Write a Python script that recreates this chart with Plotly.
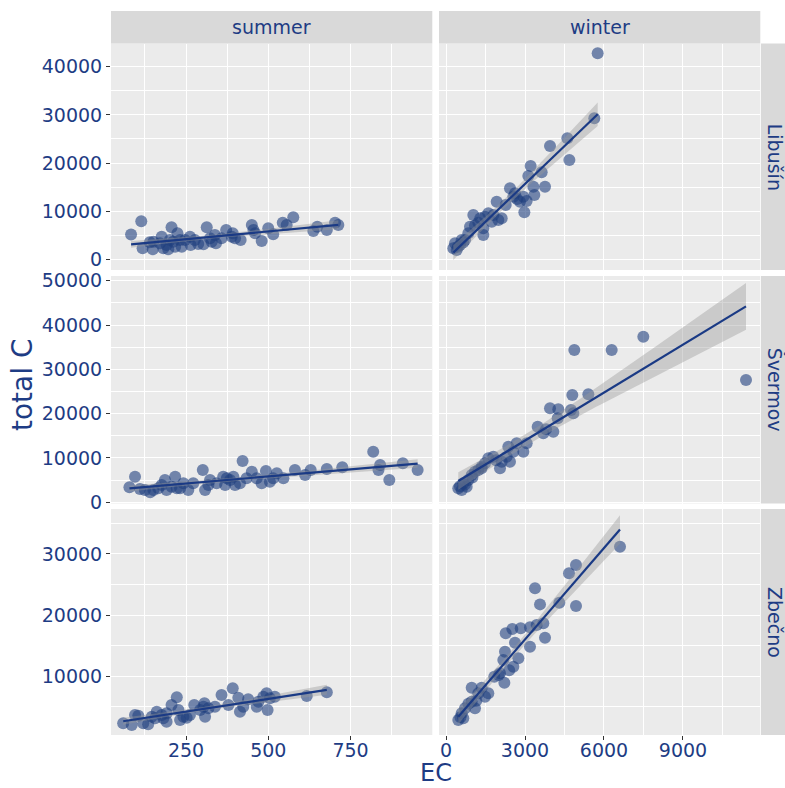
import numpy as np
import plotly.graph_objects as go

# ---------------- data ----------------
seasons = ["summer", "winter"]
sites = ["Libušín", "Švermov", "Zbečno"]

sum_lib_x = [83,114,140,118,149,176,181,206,201,224,232,217,191,262,264,287,313,303,323,338,341,358,372,392,399,416,450,455,460,480,500,515,544,556,576,637,649,678,703,713,171,196,211,237,151,247,277,328,389]
sum_lib_y = [5130,7890,3530,2280,2080,4690,2280,6650,4000,5400,4010,2620,2970,4690,2970,3180,6650,3110,4360,5050,3320,4360,6090,5400,4360,4010,7120,6090,5400,3800,6440,5190,7600,7120,8720,5880,6770,6090,7600,7120,3320,2080,3660,2620,3660,4010,4010,3660,4690]

win_lib_x = [5760,5632,3950,4608,4685,3215,3633,3127,3760,3317,2430,2620,2937,3355,2810,3063,2975,1925,2267,1607,1037,1481,1987,1227,1417,1417,847,722,342,278,532,595,1737,2115,2557,911,405,1300,1800,2700,450,650,1100]
win_lib_y = [42780,29280,23530,25130,20620,19380,18070,17300,15080,15080,14750,13710,13000,13350,11960,12110,9760,11960,11280,9550,9200,8850,8160,7600,6440,5050,5400,4010,3320,2280,2970,4010,7810,8510,13000,6770,1930,8500,9200,12500,2600,3500,7000]

sum_sve_x = [78,95,110,141,151,176,186,191,217,222,242,257,272,301,308,318,323,363,369,384,394,399,422,434,450,465,480,493,505,526,546,581,612,629,678,725,819,840,835,868,909,954,125,166,206,232,343,374,414,515]
sum_sve_y = [3380,5780,3000,2250,2780,3900,5030,2780,5780,3160,4290,2780,4290,7290,2780,3900,5030,5780,3900,5030,5780,3900,9320,5410,6900,5410,4290,7060,4650,6540,5410,7290,6160,7290,7510,7900,11420,8420,7290,5030,8800,7290,2780,3160,3520,3160,4290,5410,4290,5410]

win_sve_x = [11393,7494,6292,4873,4797,5405,3950,4265,4747,4835,4241,3481,3695,4075,3063,2684,2937,2367,2304,2430,2051,1797,1607,1481,1227,976,847,657,467,595,785,1355,2115,2557,1101,3800,1900,1350,1000,720,530]
win_sve_y = [27600,37370,34360,34360,24210,24370,21210,20980,20830,20080,18950,17060,15570,15930,13310,13310,11420,12550,10290,9160,7670,10290,9930,8800,7290,6160,5030,4290,3160,2780,3520,8030,9160,11420,6900,16500,9500,7700,5600,4000,3600]

sum_zbe_x = [59,85,95,105,120,135,146,161,176,191,206,222,227,232,252,262,275,293,306,308,318,338,358,379,392,409,414,424,439,465,470,485,495,498,505,520,617,678,156,181,191,242,303]
sum_zbe_y = [2320,2040,3680,3560,2320,2160,3400,4220,3680,2580,5310,6570,4490,2860,3240,3680,5310,4490,5590,3400,4770,5030,6940,5310,8040,6500,4220,5030,6240,5030,5850,6670,7220,4490,6400,6670,6780,7390,3140,3140,3950,3400,5030]

win_zbe_x = [6608,4937,4671,3380,3570,4304,4937,3696,3443,3190,2837,2519,2267,3760,2620,3190,2240,2177,2747,2557,2051,1835,2216,1607,1355,976,1227,976,1101,722,595,467,657,1481,2400,850,550,1150,2000]
win_zbe_y = [31180,28190,26830,24380,21760,22030,21490,18660,18380,18010,17840,17730,17030,16310,15490,14840,14020,12660,12940,11570,10490,9930,8950,7220,8140,8140,7220,5850,4770,4770,3950,2860,3140,6670,11000,5500,3300,6000,10200]

panel_data = {
    (0, 0): (sum_lib_x, sum_lib_y), (0, 1): (win_lib_x, win_lib_y),
    (1, 0): (sum_sve_x, sum_sve_y), (1, 1): (win_sve_x, win_sve_y),
    (2, 0): (sum_zbe_x, sum_zbe_y), (2, 1): (win_zbe_x, win_zbe_y),
}

x_major = {0: [250, 500, 750], 1: [0, 3000, 6000, 9000]}
x_minor = {0: [125, 375, 625, 875], 1: [1500, 4500, 7500, 10500]}
x_range = {0: [22.0, 998.6], 1: [-266, 11936]}

y_major = {0: [0, 10000, 20000, 30000, 40000],
           1: [0, 10000, 20000, 30000, 40000, 50000],
           2: [10000, 20000, 30000]}
y_minor = {0: [5000, 15000, 25000, 35000],
           1: [5000, 15000, 25000, 35000, 45000],
           2: [5000, 15000, 25000, 35000]}
y_range = {0: [-2222, 44818], 1: [-270, 51060], 2: [409, 37350]}

# ---------------- layout geometry (pixels) ----------------
W, H = 785, 788
col_px = {0: (111, 432.3), 1: (439, 760.3)}
row_px = {0: (43.5, 270), 1: (276, 503.5), 2: (509, 735)}

TXT = "#1E3C84"
PT = "#1F3F7F"
LINE = "#1A3A85"
FONT = "DejaVu Sans"

fig = go.Figure()
layout = dict(
    width=W, height=H, margin=dict(l=0, r=0, t=0, b=0, autoexpand=False),
    paper_bgcolor="white", plot_bgcolor="#EBEBEB", showlegend=False,
    font=dict(family=FONT, color=TXT, size=18),
)

for (r, c), (xs, ys) in panel_data.items():
    i = r * 2 + c + 1
    xa = "x" if i == 1 else f"x{i}"
    ya = "y" if i == 1 else f"y{i}"
    xs_a = np.array(xs, float)
    ys_a = np.array(ys, float)
    fig.add_trace(go.Scatter(x=xs_a, y=ys_a, mode="markers", xaxis=xa, yaxis=ya,
                             marker=dict(size=12, color=PT, opacity=0.6, line=dict(width=0)),
                             hoverinfo="skip"))
    # linear fit with 95% CI
    n = len(xs_a)
    b, a = np.polyfit(xs_a, ys_a, 1)
    resid = ys_a - (a + b * xs_a)
    s = np.sqrt(np.sum(resid ** 2) / (n - 2))
    xbar = xs_a.mean()
    sxx = np.sum((xs_a - xbar) ** 2)
    gx = np.linspace(xs_a.min(), xs_a.max(), 80)
    gy = a + b * gx
    se = s * np.sqrt(1.0 / n + (gx - xbar) ** 2 / sxx)
    tq = 2.0
    up, lo = gy + tq * se, gy - tq * se
    fig.add_trace(go.Scatter(x=np.concatenate([gx, gx[::-1]]), y=np.concatenate([up, lo[::-1]]),
                             mode="lines", fill="toself", fillcolor="rgba(153,153,153,0.4)",
                             line=dict(width=0), xaxis=xa, yaxis=ya, hoverinfo="skip"))
    fig.add_trace(go.Scatter(x=gx, y=gy, mode="lines", line=dict(color=LINE, width=2.2),
                             xaxis=xa, yaxis=ya, hoverinfo="skip"))

    x0, x1 = col_px[c]
    y0, y1 = row_px[r]
    bottom = (r == 2)
    left = (c == 0)
    layout["xaxis" if i == 1 else f"xaxis{i}"] = dict(
        domain=[x0 / W, x1 / W], anchor=ya, range=x_range[c], automargin=False,
        tickmode="array", tickvals=x_major[c], ticktext=[str(v) for v in x_major[c]],
        showticklabels=bottom, ticks="outside" if bottom else "", ticklen=4,
        tickcolor="#333333", tickwidth=1, ticklabelstandoff=-6,
        showgrid=True, gridcolor="white", gridwidth=1.2, zeroline=False, showline=False,
        minor=dict(tickvals=x_minor[c], showgrid=True, gridcolor="white", gridwidth=0.6, ticks=""),
        tickfont=dict(family=FONT, size=19, color=TXT),
    )
    layout["yaxis" if i == 1 else f"yaxis{i}"] = dict(
        domain=[1 - y1 / H, 1 - y0 / H], anchor=xa, range=y_range[r], automargin=False,
        tickmode="array", tickvals=y_major[r], ticktext=[str(v) for v in y_major[r]],
        showticklabels=left, ticks="outside" if left else "", ticklen=4,
        tickcolor="#333333", tickwidth=1,
        showgrid=True, gridcolor="white", gridwidth=1.2, zeroline=False, showline=False,
        minor=dict(tickvals=y_minor[r], showgrid=True, gridcolor="white", gridwidth=0.6, ticks=""),
        tickfont=dict(family=FONT, size=19, color=TXT),
    )

shapes = []
annotations = []
# top strips
for c, name in enumerate(seasons):
    x0, x1 = col_px[c]
    shapes.append(dict(type="rect", xref="paper", yref="paper", x0=x0 / W, x1=x1 / W,
                       y0=1 - 43.5 / H, y1=1 - 11 / H, fillcolor="#D9D9D9", line=dict(width=0), layer="below"))
    annotations.append(dict(text=name, xref="paper", yref="paper", x=(x0 + x1) / 2 / W,
                            y=1 - 27.5 / H, showarrow=False, xanchor="center", yanchor="middle",
                            font=dict(family=FONT, size=19, color=TXT)))
# right strips
for r, name in enumerate(sites):
    y0, y1 = row_px[r]
    shapes.append(dict(type="rect", xref="paper", yref="paper", x0=761 / W, x1=1.0,
                       y0=1 - y1 / H, y1=1 - y0 / H, fillcolor="#D9D9D9", line=dict(width=0), layer="below"))
    annotations.append(dict(text=name, xref="paper", yref="paper", x=775 / W,
                            y=1 - (y0 + y1) / 2 / H, showarrow=False, xanchor="center", yanchor="middle",
                            textangle=90, font=dict(family=FONT, size=19, color=TXT)))
# axis titles
annotations.append(dict(text="EC", xref="paper", yref="paper", x=435.6 / W, y=0,
                        showarrow=False, xanchor="center", yanchor="bottom", borderpad=0,
                        font=dict(family=FONT, size=24, color=TXT)))
annotations.append(dict(text="total C", xref="paper", yref="paper", x=23 / W, y=1 - 385 / H,
                        showarrow=False, xanchor="center", yanchor="middle", textangle=-90,
                        font=dict(family=FONT, size=28, color=TXT)))

layout["shapes"] = shapes
layout["annotations"] = annotations
fig.update_layout(**layout)
fig.write_html("out.html")
